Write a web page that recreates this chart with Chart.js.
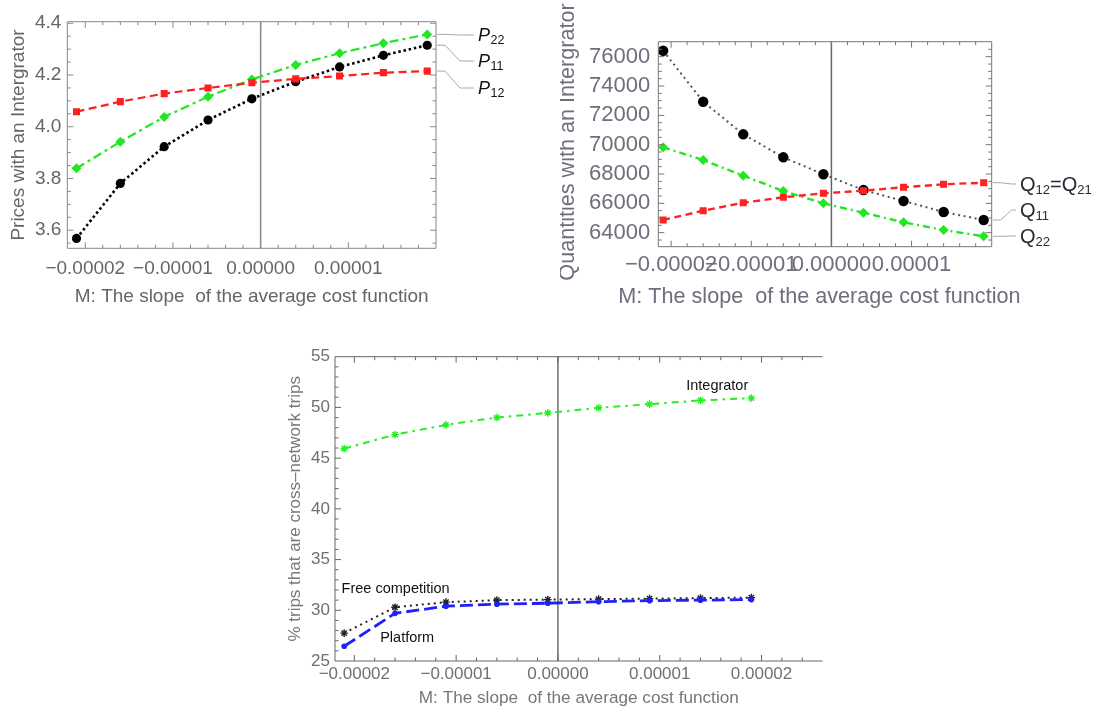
<!DOCTYPE html>
<html>
<head>
<meta charset="utf-8">
<script src="https://cdn.jsdelivr.net/npm/chart.js@4.4.1/dist/chart.umd.min.js"></script>
<style>
  html, body { margin: 0; padding: 0; background: #fff; }
  body { width: 1094px; height: 707px; position: relative; overflow: hidden; }
  .panel { position: absolute; }
  #p1 { left: 0; top: 0; }
  #p2 { left: 560px; top: 0; }
  #p3 { left: 280px; top: 340px; }
</style>
</head>
<body>
<div class="panel" id="p1"><canvas id="prices" width="545" height="310"></canvas></div>
<div class="panel" id="p2"><canvas id="quantities" width="534" height="310"></canvas></div>
<div class="panel" id="p3"><canvas id="shares" width="548" height="367"></canvas></div>
<script>
const FONT = "'Liberation Sans', Arial, sans-serif";

// M values, same for all three panels
const slopeM = [-2.1e-5, -1.6e-5, -1.1e-5, -0.6e-5, -0.1e-5, 0.4e-5, 0.9e-5, 1.4e-5, 1.9e-5];

// Prices with an Intergrator
const priceP22 = [3.839, 3.942, 4.038, 4.116, 4.183, 4.239, 4.284, 4.323, 4.357];
const priceP11 = [3.568, 3.781, 3.923, 4.026, 4.108, 4.174, 4.231, 4.276, 4.315];
const priceP12 = [4.058, 4.097, 4.128, 4.15, 4.17, 4.185, 4.196, 4.209, 4.215];

// Quantities with an Intergrator
const qtyQ11 = [76409, 72931, 70708, 69140, 67981, 66910, 66160, 65410, 64865];
const qtyQ22 = [69822, 68956, 67885, 66842, 66003, 65362, 64708, 64183, 63753];
const qtyQ12 = [64865, 65499, 66044, 66412, 66685, 66863, 67094, 67299, 67408];

// % trips that are cross-network trips
const shareIntegrator = [45.94, 47.32, 48.28, 49.0, 49.46, 49.96, 50.32, 50.69, 50.92];
const shareFree = [27.75, 30.3, 30.8, 31.0, 31.05, 31.1, 31.15, 31.2, 31.25];
const sharePlatform = [26.45, 29.7, 30.4, 30.6, 30.7, 30.85, 30.95, 31.0, 31.05];

// tick values and labels
const slopeTicks = [-2e-5, -1e-5, 0, 1e-5];
const slopeLabels = ["\u22120.00002", "\u22120.00001", "0.00000", "0.00001"];
const slopeTicksWide = [-2e-5, -1e-5, 0, 1e-5, 2e-5];
const slopeLabelsWide = ["\u22120.00002", "\u22120.00001", "0.00000", "0.00001", "0.00002"];
const priceTicks = [3.6, 3.8, 4.0, 4.2, 4.4];
const priceLabels = ["3.6", "3.8", "4.0", "4.2", "4.4"];
const qtyTicks = [64000, 66000, 68000, 70000, 72000, 74000, 76000];
const qtyLabels = ["64000", "66000", "68000", "70000", "72000", "74000", "76000"];
const shareTicks = [25, 30, 35, 40, 45, 50, 55];
const shareLabels = ["25", "30", "35", "40", "45", "50", "55"];

const xTitle = "M: The slope  of the average cost function";

function toPoints(ys) {
  return slopeM.map((x, i) => ({ x: x, y: ys[i] }));
}

// draws a label made of several pieces (italic letter, subscripts ...)
function drawRich(ctx, parts, x, y, color) {
  ctx.fillStyle = color;
  ctx.textBaseline = "middle";
  ctx.textAlign = "left";
  parts.forEach((p) => {
    ctx.font = (p.italic ? "italic " : "") + p.size + "px " + FONT;
    ctx.fillText(p.t, x, y + (p.dy || 0));
    x += ctx.measureText(p.t).width + (p.gap || 0);
  });
}

// Mathematica style frame: box, inward ticks on every side, line at M = 0
const mathFrame = {
  id: "mathFrame",
  beforeDatasetsDraw(chart, args, opts) {
    const { ctx, chartArea: a } = chart;
    const x0 = chart.scales.x.getPixelForValue(0);
    ctx.save();
    ctx.strokeStyle = opts.zeroColor;
    ctx.lineWidth = opts.zeroWidth;
    ctx.beginPath();
    ctx.moveTo(x0, a.top);
    ctx.lineTo(x0, a.bottom);
    ctx.stroke();
    ctx.restore();
  },
  afterDatasetsDraw(chart, args, opts) {
    const { ctx, chartArea: a, scales } = chart;
    ctx.save();
    ctx.strokeStyle = opts.color;
    ctx.lineWidth = 1;
    ctx.beginPath();
    ctx.moveTo(a.right, a.top);
    ctx.lineTo(a.left, a.top);
    ctx.lineTo(a.left, a.bottom);
    ctx.lineTo(a.right, a.bottom);
    if (opts.right) ctx.lineTo(a.right, a.top);

    const marks = (scale, step, majors) => {
      const out = [];
      for (let k = Math.ceil(scale.min / step - 1e-6); k * step <= scale.max + step * 1e-6; k++) {
        const v = k * step;
        const major = majors.some((m) => Math.abs(m - v) < step / 10);
        out.push({ p: scale.getPixelForValue(v), major: major });
      }
      return out;
    };
    marks(scales.x, opts.xMinor, opts.xMajor).forEach((m) => {
      if (m.p < a.left + 1 || m.p > a.right - 1) return;
      const len = m.major ? opts.major : opts.minor;
      ctx.moveTo(m.p, a.bottom);
      ctx.lineTo(m.p, a.bottom - len);
      ctx.moveTo(m.p, a.top);
      ctx.lineTo(m.p, a.top + len);
    });
    marks(scales.y, opts.yMinor, opts.yMajor).forEach((m) => {
      if (m.p < a.top + 1 || m.p > a.bottom - 1) return;
      const len = m.major ? opts.major : opts.minor;
      ctx.moveTo(a.left, m.p);
      ctx.lineTo(a.left + len, m.p);
      if (opts.right) {
        ctx.moveTo(a.right, m.p);
        ctx.lineTo(a.right - len, m.p);
      }
    });
    ctx.stroke();
    ctx.restore();
  },
};

// curve labels at the right end and free text labels
const curveLabels = {
  id: "curveLabels",
  afterDraw(chart, args, opts) {
    const { ctx, chartArea: a, scales } = chart;
    ctx.save();
    (opts.callouts || []).forEach((it) => {
      const pts = chart.getDatasetMeta(it.ds).data;
      const py = pts[pts.length - 1].y;
      ctx.strokeStyle = opts.lineColor;
      ctx.lineWidth = 1;
      ctx.beginPath();
      ctx.moveTo(a.right + 1, py);
      ctx.lineTo(a.right + opts.bend1, py);
      ctx.lineTo(a.right + opts.bend2, it.y);
      ctx.lineTo(opts.textX - 4, it.y);
      ctx.stroke();
      drawRich(ctx, it.parts, opts.textX, it.y + 1, opts.textColor);
    });
    (opts.texts || []).forEach((it) => {
      drawRich(ctx, [{ t: it.t, size: opts.textSize }], scales.x.getPixelForValue(it.x), scales.y.getPixelForValue(it.y), opts.textColor);
    });
    (opts.titles || []).forEach((it) => {
      ctx.save();
      ctx.translate(it.x, it.y);
      ctx.rotate(it.rot || 0);
      ctx.font = it.size + "px " + FONT;
      ctx.fillStyle = it.color;
      ctx.textAlign = "center";
      ctx.textBaseline = "middle";
      ctx.fillText(it.t, 0, 0);
      ctx.restore();
    });
    ctx.restore();
  },
};

function makeAxis(o) {
  return {
    type: "linear",
    position: o.position,
    min: o.min,
    max: o.max,
    grid: { display: false, drawTicks: false },
    border: { display: false },
    ticks: {
      autoSkip: false,
      maxRotation: 0,
      minRotation: 0,
      padding: o.pad,
      color: o.color,
      font: { family: FONT, size: o.size, lineHeight: 1.2 },
      callback: (v, i) => o.labels[i],
    },
    afterBuildTicks: (s) => {
      s.ticks = o.ticks.map((v) => ({ value: v }));
    },
    afterFit: (s) => {
      if (o.width) s.width = o.width;
      if (o.height) s.height = o.height;
    },
    title: o.title
      ? { display: true, text: o.title, color: o.titleColor, font: { family: FONT, size: o.titleSize, lineHeight: 1 }, padding: o.titlePad }
      : { display: false },
  };
}

function line(label, ys, color, dash, width, style, radius, pointColor) {
  const pc = pointColor || color;
  return {
    label: label,
    data: toPoints(ys),
    showLine: true,
    borderColor: color,
    backgroundColor: pc,
    borderWidth: width,
    borderDash: dash,
    pointStyle: style,
    pointRadius: radius,
    pointBackgroundColor: pc,
    pointBorderColor: pc,
    pointBorderWidth: style === "star" ? 1.4 : 0,
    tension: 0,
  };
}

const baseOptions = {
  responsive: false,
  animation: false,
  plugins: { legend: { display: false }, tooltip: { enabled: false } },
};

// Top left: prices
function showPriceChart() {
  new Chart(document.getElementById("prices"), {
    type: "scatter",
    data: {
      datasets: [
        line("P12", priceP12, "#ff1f1f", [8, 4.5], 2.2, "rect", 5),
        line("P22", priceP22, "#22e622", [9, 4, 3, 4], 2.2, "rectRot", 5),
        line("P11", priceP11, "#000000", [2.5, 2.8], 2.6, "circle", 4.6),
      ],
    },
    options: {
      ...baseOptions,
      layout: { padding: { top: 21.7, right: 109, left: 0, bottom: 0 } },
      scales: {
        x: makeAxis({ position: "bottom", min: -2.205e-5, max: 2.0e-5, ticks: slopeTicks, labels: slopeLabels, pad: 9, color: "#666", size: 19, height: 61.7,
          title: xTitle, titleColor: "#666", titleSize: 19, titlePad: { top: 0, bottom: 4 } }),
        y: makeAxis({ position: "left", min: 3.53, max: 4.406, ticks: priceTicks, labels: priceLabels, pad: 6, color: "#666", size: 19, width: 67.3,
          title: "Prices with an Intergrator", titleColor: "#666", titleSize: 19, titlePad: { top: 8.8, bottom: 0 } }),
      },
      plugins: {
        ...baseOptions.plugins,
        mathFrame: { color: "#888", zeroColor: "#888", zeroWidth: 1.5, xMajor: slopeTicks, xMinor: 0.2e-5, yMajor: priceTicks, yMinor: 0.05, major: 6, minor: 3.5, right: true },
        curveLabels: {
          lineColor: "#aaa", textColor: "#111", bend1: 9, bend2: 24, textX: 478,
          callouts: [
            { ds: 1, y: 35, parts: [{ t: "P", size: 18, italic: true, gap: 0.5 }, { t: "22", size: 12.5, dy: 5 }] },
            { ds: 2, y: 61, parts: [{ t: "P", size: 18, italic: true, gap: 0.5 }, { t: "11", size: 12.5, dy: 5 }] },
            { ds: 0, y: 88, parts: [{ t: "P", size: 18, italic: true, gap: 0.5 }, { t: "12", size: 12.5, dy: 5 }] },
          ],
        },
      },
    },
    plugins: [mathFrame, curveLabels],
  });
}

// Top right: quantities
function showQuantityChart() {
  new Chart(document.getElementById("quantities"), {
    type: "scatter",
    data: {
      datasets: [
        line("Q12=Q21", qtyQ12, "#ff2222", [7, 4.5], 2.4, "rect", 5),
        line("Q22", qtyQ22, "#22e622", [7, 4, 2, 4], 2.4, "rectRot", 5),
        line("Q11", qtyQ11, "#555555", [2, 3.6], 2, "circle", 5.2, "#000000"),
      ],
    },
    options: {
      ...baseOptions,
      layout: { padding: { top: 41.7, right: 102.3, left: 0, bottom: 0 } },
      scales: {
        x: makeAxis({ position: "bottom", min: -2.16e-5, max: 2.0e-5, ticks: slopeTicks, labels: slopeLabels, pad: 5, color: "#6e6e7c", size: 22, height: 63.3 }),
        y: makeAxis({ position: "left", min: 63044, max: 77023, ticks: qtyTicks, labels: qtyLabels, pad: 8, color: "#6e6e7c", size: 22, width: 98.3 }),
      },
      plugins: {
        ...baseOptions.plugins,
        mathFrame: { color: "#777", zeroColor: "#666", zeroWidth: 1.5, xMajor: slopeTicks, xMinor: 0.2e-5, yMajor: qtyTicks, yMinor: 500, major: 6, minor: 3.5, right: true },
        curveLabels: {
          lineColor: "#aaa", textColor: "#2a2a35", bend1: 9, bend2: 20, textX: 460,
          callouts: [
            { ds: 0, y: 184, parts: [{ t: "Q", size: 20 }, { t: "12", size: 13, dy: 5 }, { t: "=", size: 20 }, { t: "Q", size: 20 }, { t: "21", size: 13, dy: 5 }] },
            { ds: 2, y: 210, parts: [{ t: "Q", size: 20 }, { t: "11", size: 13, dy: 5 }] },
            { ds: 1, y: 236, parts: [{ t: "Q", size: 20 }, { t: "22", size: 13, dy: 5 }] },
          ],
          titles: [
            { t: "Quantities with an Intergrator", x: 8, y: 142, rot: -Math.PI / 2, size: 21.6, color: "#6e6e7c" },
            { t: xTitle, x: 259.4, y: 297, size: 21.6, color: "#6e6e7c" },
          ],
        },
      },
    },
    plugins: [mathFrame, curveLabels],
  });
}

// Bottom: share of cross-network trips
function showShareChart() {
  new Chart(document.getElementById("shares"), {
    type: "scatter",
    data: {
      datasets: [
        line("Platform", sharePlatform, "#2020ff", [13, 5], 2.8, "circle", 2.8),
        line("Free competition", shareFree, "#222222", [2, 4], 2, "star", 3.8),
        line("Integrator", shareIntegrator, "#22ee22", [7, 5, 2.5, 5], 2, "star", 3.8),
      ],
    },
    options: {
      ...baseOptions,
      layout: { padding: { top: 16.7, right: 0, left: 0, bottom: 0 } },
      scales: {
        x: makeAxis({ position: "bottom", min: -2.19e-5, max: 2.6e-5, ticks: slopeTicksWide, labels: slopeLabelsWide, pad: 3.5, color: "#707070", size: 17, height: 46,
          title: xTitle, titleColor: "#777", titleSize: 17.2, titlePad: { top: 0, bottom: 0.5 } }),
        y: makeAxis({ position: "left", min: 25, max: 55, ticks: shareTicks, labels: shareLabels, pad: 5, color: "#707070", size: 17, width: 55,
          title: "% trips that are cross\u2013network trips", titleColor: "#777", titleSize: 17, titlePad: { top: 6.5, bottom: 0 } }),
      },
      plugins: {
        ...baseOptions.plugins,
        mathFrame: { color: "#666", zeroColor: "#555", zeroWidth: 1.3, xMajor: slopeTicksWide, xMinor: 0.2e-5, yMajor: shareTicks, yMinor: 1, major: 6, minor: 3.5, right: false },
        curveLabels: {
          textColor: "#111", textSize: 14.5,
          texts: [
            { t: "Integrator", x: 1.26e-5, y: 52.1 },
            { t: "Free competition", x: -2.125e-5, y: 32.09 },
            { t: "Platform", x: -1.746e-5, y: 27.3 },
          ],
        },
      },
    },
    plugins: [mathFrame, curveLabels],
  });
}

window.onload = () => {
  showPriceChart();
  showQuantityChart();
  showShareChart();
};
</script>
</body>
</html>
